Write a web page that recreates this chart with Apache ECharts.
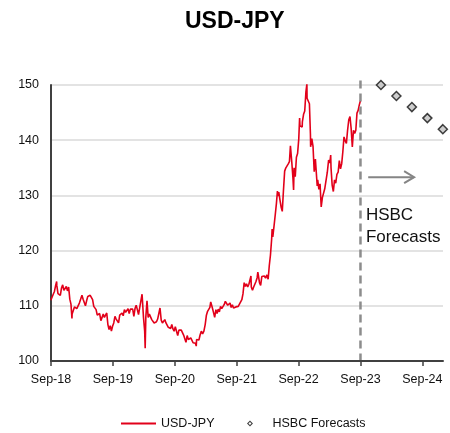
<!DOCTYPE html>
<html>
<head>
<meta charset="utf-8">
<script src="https://cdn.jsdelivr.net/npm/echarts@6/dist/echarts.min.js"></script>
<style>
  html, body { margin: 0; padding: 0; background: #fff; }
  #chart { width: 450px; height: 433px; }
</style>
</head>
<body>
<div id="chart"></div>
<script>
// Axis tick labels (one per September)
const tickLabels = ['Sep-18', 'Sep-19', 'Sep-20', 'Sep-21', 'Sep-22', 'Sep-23', 'Sep-24'];

// USD-JPY spot history (weekly closes plus notable daily extremes)
const usdJpy = [
  ['2018-08-31', 111.0], ['2018-09-07', 110.9], ['2018-09-14', 112.1], ['2018-09-21', 112.6],
  ['2018-09-28', 113.7], ['2018-10-04', 114.4], ['2018-10-05', 113.7], ['2018-10-12', 112.2],
  ['2018-10-19', 112.5], ['2018-10-26', 111.9], ['2018-11-02', 113.2], ['2018-11-09', 113.8],
  ['2018-11-16', 112.8], ['2018-11-23', 112.9], ['2018-11-30', 113.5], ['2018-12-07', 112.7],
  ['2018-12-14', 113.4], ['2018-12-21', 111.2], ['2018-12-28', 110.3], ['2019-01-03', 107.7],
  ['2019-01-04', 108.5], ['2019-01-11', 108.5], ['2019-01-18', 109.8], ['2019-01-25', 109.5],
  ['2019-02-01', 109.5], ['2019-02-08', 109.7], ['2019-02-15', 110.5], ['2019-02-22', 110.7],
  ['2019-03-01', 111.9], ['2019-03-08', 111.2], ['2019-03-15', 111.5], ['2019-03-22', 110.0],
  ['2019-03-29', 110.9], ['2019-04-05', 111.7], ['2019-04-12', 112.0], ['2019-04-19', 111.9],
  ['2019-04-26', 111.6], ['2019-05-03', 111.1], ['2019-05-10', 109.9], ['2019-05-17', 110.1],
  ['2019-05-24', 109.3], ['2019-05-31', 108.3], ['2019-06-07', 108.2], ['2019-06-14', 108.6],
  ['2019-06-21', 107.3], ['2019-06-28', 107.9], ['2019-07-05', 108.5], ['2019-07-12', 107.9],
  ['2019-07-19', 107.7], ['2019-07-26', 108.7], ['2019-08-02', 106.6], ['2019-08-09', 105.7],
  ['2019-08-16', 106.4], ['2019-08-23', 105.4], ['2019-08-30', 106.3], ['2019-09-06', 106.9],
  ['2019-09-13', 108.1], ['2019-09-20', 107.6], ['2019-09-27', 107.9], ['2019-10-04', 106.9],
  ['2019-10-11', 108.3], ['2019-10-18', 108.4], ['2019-10-25', 108.7], ['2019-11-01', 108.2],
  ['2019-11-08', 109.3], ['2019-11-15', 108.8], ['2019-11-22', 108.7], ['2019-11-29', 109.5],
  ['2019-12-06', 108.6], ['2019-12-13', 109.4], ['2019-12-20', 109.4], ['2019-12-27', 109.4],
  ['2020-01-03', 108.1], ['2020-01-10', 109.5], ['2020-01-17', 110.1], ['2020-01-24', 109.3],
  ['2020-01-31', 108.4], ['2020-02-07', 109.7], ['2020-02-14', 109.8], ['2020-02-20', 112.1],
  ['2020-02-21', 111.6], ['2020-02-28', 107.9], ['2020-03-06', 105.4], ['2020-03-09', 102.3],
  ['2020-03-13', 108.0], ['2020-03-20', 110.9], ['2020-03-24', 111.2], ['2020-03-27', 107.9],
  ['2020-04-03', 108.5], ['2020-04-10', 108.5], ['2020-04-17', 107.5], ['2020-04-24', 107.5],
  ['2020-05-01', 106.9], ['2020-05-08', 106.6], ['2020-05-15', 107.1], ['2020-05-22', 107.6],
  ['2020-05-29', 107.8], ['2020-06-05', 109.6], ['2020-06-12', 107.4], ['2020-06-19', 106.9],
  ['2020-06-26', 107.2], ['2020-07-03', 107.5], ['2020-07-10', 106.9], ['2020-07-17', 107.0],
  ['2020-07-24', 106.1], ['2020-07-31', 105.9], ['2020-08-07', 105.9], ['2020-08-14', 106.6],
  ['2020-08-21', 105.8], ['2020-08-28', 105.4], ['2020-09-04', 106.2], ['2020-09-11', 106.1],
  ['2020-09-18', 104.6], ['2020-09-25', 105.6], ['2020-10-02', 105.3], ['2020-10-09', 105.6],
  ['2020-10-16', 105.4], ['2020-10-23', 104.7], ['2020-10-30', 104.7], ['2020-11-06', 103.4],
  ['2020-11-13', 104.6], ['2020-11-20', 103.9], ['2020-11-27', 104.1], ['2020-12-04', 104.2],
  ['2020-12-11', 104.0], ['2020-12-18', 103.3], ['2020-12-25', 103.6], ['2021-01-01', 103.2],
  ['2021-01-06', 102.7], ['2021-01-08', 103.9], ['2021-01-15', 103.9], ['2021-01-22', 103.8],
  ['2021-01-29', 104.7], ['2021-02-05', 105.4], ['2021-02-12', 104.9], ['2021-02-19', 105.4],
  ['2021-02-26', 106.6], ['2021-03-05', 108.3], ['2021-03-12', 109.0], ['2021-03-19', 108.9],
  ['2021-03-26', 109.7], ['2021-03-31', 110.7], ['2021-04-02', 110.6], ['2021-04-09', 109.7],
  ['2021-04-16', 108.8], ['2021-04-23', 107.9], ['2021-04-30', 109.3], ['2021-05-07', 108.6],
  ['2021-05-14', 109.4], ['2021-05-21', 108.9], ['2021-05-28', 109.9], ['2021-06-04', 109.5],
  ['2021-06-11', 109.7], ['2021-06-18', 110.2], ['2021-06-25', 110.8], ['2021-07-02', 111.1],
  ['2021-07-09', 110.1], ['2021-07-16', 110.1], ['2021-07-23', 110.5], ['2021-07-30', 109.7],
  ['2021-08-06', 110.2], ['2021-08-13', 109.6], ['2021-08-20', 109.8], ['2021-08-27', 109.8],
  ['2021-09-03', 109.7], ['2021-09-10', 109.9], ['2021-09-17', 109.9], ['2021-09-24', 110.7],
  ['2021-10-01', 111.1], ['2021-10-08', 112.2], ['2021-10-15', 114.2], ['2021-10-20', 114.4],
  ['2021-10-22', 113.5], ['2021-10-29', 114.0], ['2021-11-05', 113.4], ['2021-11-12', 113.9],
  ['2021-11-19', 114.0], ['2021-11-24', 115.4], ['2021-11-26', 113.4], ['2021-12-03', 112.8],
  ['2021-12-10', 113.4], ['2021-12-17', 113.7], ['2021-12-24', 114.4], ['2021-12-31', 115.1],
  ['2022-01-04', 116.1], ['2022-01-07', 115.6], ['2022-01-14', 114.2], ['2022-01-21', 113.7],
  ['2022-01-28', 115.3], ['2022-02-04', 115.2], ['2022-02-11', 115.4], ['2022-02-18', 115.0],
  ['2022-02-25', 115.6], ['2022-03-04', 114.8], ['2022-03-11', 117.3], ['2022-03-18', 119.2],
  ['2022-03-25', 122.0], ['2022-03-28', 123.9], ['2022-04-01', 122.5], ['2022-04-08', 124.4],
  ['2022-04-15', 126.4], ['2022-04-22', 128.5], ['2022-04-28', 130.8], ['2022-04-29', 129.9],
  ['2022-05-06', 130.6], ['2022-05-13', 129.2], ['2022-05-20', 127.9], ['2022-05-27', 127.1],
  ['2022-06-03', 130.9], ['2022-06-10', 134.4], ['2022-06-17', 135.0], ['2022-06-24', 135.2],
  ['2022-07-01', 135.7], ['2022-07-08', 136.1], ['2022-07-14', 139.0], ['2022-07-15', 138.6],
  ['2022-07-22', 136.1], ['2022-07-29', 133.2], ['2022-08-02', 131.0], ['2022-08-05', 135.0],
  ['2022-08-12', 133.4], ['2022-08-19', 136.9], ['2022-08-26', 137.6], ['2022-09-02', 140.2],
  ['2022-09-07', 144.0], ['2022-09-09', 142.6], ['2022-09-16', 142.9], ['2022-09-22', 142.4],
  ['2022-09-23', 143.3], ['2022-09-30', 144.7], ['2022-10-07', 145.3], ['2022-10-14', 148.7],
  ['2022-10-20', 150.2], ['2022-10-21', 147.6], ['2022-10-28', 147.5], ['2022-11-04', 146.6],
  ['2022-11-10', 141.0], ['2022-11-11', 138.8], ['2022-11-18', 140.3], ['2022-11-25', 138.9],
  ['2022-12-02', 134.3], ['2022-12-09', 136.6], ['2022-12-16', 136.7], ['2022-12-20', 131.7],
  ['2022-12-23', 132.8], ['2022-12-30', 131.1], ['2023-01-06', 132.1], ['2023-01-13', 127.9],
  ['2023-01-16', 127.6], ['2023-01-20', 129.6], ['2023-01-27', 129.9], ['2023-02-03', 131.2],
  ['2023-02-10', 131.4], ['2023-02-17', 134.2], ['2023-02-24', 136.4], ['2023-03-03', 135.9],
  ['2023-03-08', 137.3], ['2023-03-10', 135.0], ['2023-03-17', 131.8], ['2023-03-24', 130.7],
  ['2023-03-31', 132.8], ['2023-04-07', 132.2], ['2023-04-14', 133.8], ['2023-04-21', 134.2],
  ['2023-04-28', 136.3], ['2023-05-05', 134.8], ['2023-05-12', 135.7], ['2023-05-19', 137.9],
  ['2023-05-26', 140.6], ['2023-06-02', 139.9], ['2023-06-09', 139.4], ['2023-06-16', 141.8],
  ['2023-06-23', 143.7], ['2023-06-30', 144.3], ['2023-07-07', 142.1], ['2023-07-14', 138.8],
  ['2023-07-21', 141.8], ['2023-07-28', 141.2], ['2023-08-04', 141.8], ['2023-08-11', 144.9],
  ['2023-08-18', 145.4], ['2023-08-25', 146.4], ['2023-09-01', 147.2]
];

// HSBC quarter-end forecasts
const forecastDates = ['2023-12-31', '2024-03-31', '2024-06-30', '2024-09-30', '2024-12-31'];
const forecastValues = [150, 148, 146, 144, 142];

// Where the forecast horizon begins
const forecastStart = '2023-09-01';

// Months elapsed since 1 Sep 2018 (fractional within the month)
function monthIndex(s) {
  const [y, m, d] = s.split('-').map(Number);
  const daysInMonth = new Date(y, m, 0).getDate();
  return (y - 2018) * 12 + (m - 9) + (d - 1) / daysInMonth;
}

const FONT = '"Liberation Sans", Arial, Helvetica, sans-serif';
const tickValues = tickLabels.map((_, i) => i * 12);

// Legend glyphs drawn in a 35x6 box: a short red bar, and a hollow diamond
// (tiny corner anchors pin the bounding box so the glyph is not stretched)
const CORNERS = 'M0,0L0.01,0L0,0.01Z M35,6L34.99,6L35,5.99Z ';
const LEGEND_LINE = 'path://' + CORNERS + 'M0,2L35,2L35,4L0,4Z';
const LEGEND_DIAMOND = 'path://' + CORNERS + 'M14.5,3L17.5,0L20.5,3L17.5,6Z M16,3L17.5,4.5L19,3L17.5,1.5Z';

const chart = echarts.init(document.getElementById('chart'), null, { renderer: 'canvas' });

chart.setOption({
  animation: false,
  backgroundColor: '#ffffff',
  textStyle: { fontFamily: FONT },
  title: {
    text: 'USD-JPY',
    left: 185,
    top: 10,
    padding: 0,
    textStyle: { fontFamily: FONT, fontSize: 23, fontWeight: 'bold', color: '#000' }
  },
  grid: { left: 51, right: 7, top: 85, bottom: 72, containLabel: false },
  legend: {
    left: 121,
    top: 417,
    itemWidth: 35,
    itemHeight: 6,
    itemGap: 18,
    padding: 0,
    textStyle: { fontFamily: FONT, fontSize: 12.5, color: '#111' },
    data: [
      { name: 'USD-JPY', icon: LEGEND_LINE, itemStyle: { color: '#e2001a', borderWidth: 0 } },
      { name: 'HSBC Forecasts', icon: LEGEND_DIAMOND, itemStyle: { color: '#111', borderWidth: 0 } }
    ]
  },
  xAxis: {
    type: 'value',
    min: 0,
    max: 76,
    interval: 12,
    axisLine: { show: true, lineStyle: { color: '#404040', width: 2 } },
    axisTick: { show: true, customValues: tickValues, length: 5, lineStyle: { color: '#404040', width: 1.5 } },
    axisLabel: {
      customValues: tickValues,
      formatter: v => tickLabels[Math.round(v / 12)] || '',
      fontFamily: FONT, fontSize: 12.5, color: '#111', margin: 12
    },
    splitLine: { show: false }
  },
  yAxis: {
    type: 'value',
    min: 100,
    max: 150,
    interval: 10,
    axisLine: { show: true, lineStyle: { color: '#404040', width: 2 } },
    axisTick: { show: false },
    axisLabel: { fontFamily: FONT, fontSize: 12.5, color: '#111', margin: 12 },
    splitLine: { show: true, lineStyle: { color: '#dadada', width: 1.5 } }
  },
  series: [
    {
      name: 'USD-JPY',
      type: 'line',
      symbol: 'none',
      data: usdJpy.map(([d, v]) => [monthIndex(d), v]),
      lineStyle: { color: '#e2001a', width: 1.6 },
      itemStyle: { color: '#e2001a' },
      clip: true,
      z: 3
    },
    {
      name: 'HSBC Forecasts',
      type: 'scatter',
      symbol: 'diamond',
      symbolSize: 9,
      data: forecastDates.map((d, i) => [monthIndex(d), forecastValues[i]]),
      itemStyle: { color: '#c0c0c0', borderColor: '#111', borderWidth: 1.5 },
      clip: false,
      z: 4
    }
  ]
});

// Annotations: forecast divider, arrow and caption, anchored to data coordinates
const px = (x, y) => chart.convertToPixel({ gridIndex: 0 }, [x, y]);
const xStart = monthIndex(forecastStart);
const divTop = px(xStart, 150.8);
const divBot = px(xStart, 100);
const arrowA = px(61.5, 133.3);
const arrowB = px(70.4, 133.3);
const caption = px(61.05, 128.3);

chart.setOption({
  graphic: [
    {
      type: 'line',
      shape: { x1: divTop[0], y1: divTop[1], x2: divBot[0], y2: divBot[1] - 1 },
      style: { stroke: '#8c8c8c', lineWidth: 2.5, lineDash: [8, 5] },
      z: 10
    },
    {
      type: 'line',
      shape: { x1: arrowA[0], y1: arrowA[1], x2: arrowB[0], y2: arrowB[1] },
      style: { stroke: '#858585', lineWidth: 2 },
      z: 10
    },
    {
      type: 'polyline',
      shape: { points: [[arrowB[0] - 10, arrowB[1] - 6], [arrowB[0], arrowB[1]], [arrowB[0] - 10, arrowB[1] + 6]] },
      style: { stroke: '#858585', lineWidth: 2, fill: null },
      z: 10
    },
    {
      type: 'text',
      x: caption[0],
      y: caption[1],
      style: {
        text: 'HSBC\nForecasts',
        fontFamily: FONT,
        fontSize: 17,
        lineHeight: 22,
        fill: '#111',
        align: 'left',
        verticalAlign: 'top'
      },
      z: 10
    }
  ]
});
</script>
</body>
</html>
